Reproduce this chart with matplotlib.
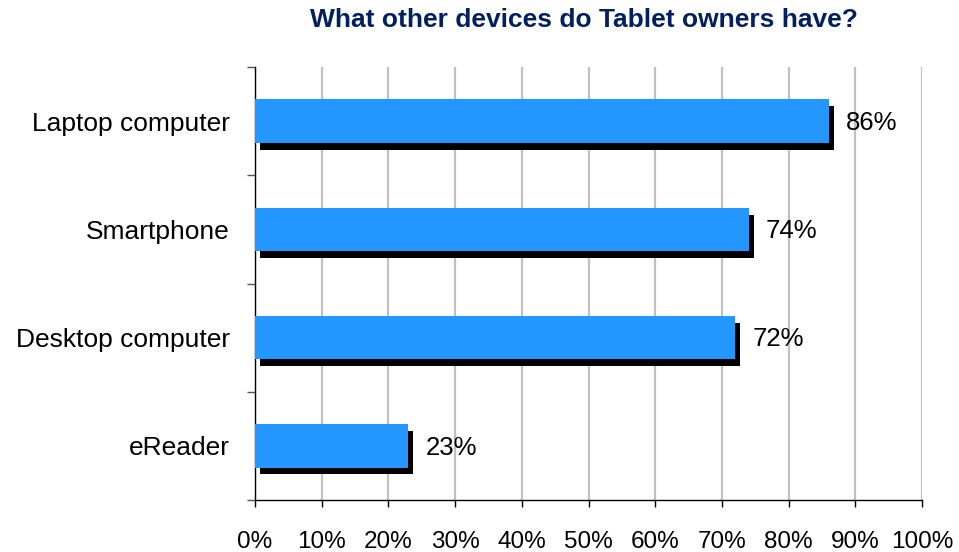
import matplotlib
matplotlib.use("Agg")
import matplotlib.pyplot as plt
import matplotlib.patheffects as pe
from matplotlib.ticker import FixedLocator

plt.rcParams['font.family'] = ['Liberation Sans', 'DejaVu Sans']

title = "What other devices do Tablet owners have?"
categories = ["Laptop computer", "Smartphone", "Desktop computer", "eReader"]
shares = [86, 74, 72, 23]
x_ticks = [0, 10, 20, 30, 40, 50, 60, 70, 80, 90, 100]
x_tick_labels = [f"{v}%" for v in x_ticks]

fig = plt.figure(figsize=(9.59, 5.52), dpi=100)
ax = fig.add_axes([255 / 959, 1 - 500 / 552, (922 - 255) / 959, (500 - 67) / 552])

ypos = list(range(len(categories)))
bars = ax.barh(ypos, shares, height=0.40, color="#2397FF", edgecolor="none", zorder=3)
for b in bars:
    b.set_path_effects([
        pe.SimplePatchShadow(offset=(3.6, -5.0), shadow_rgbFace="black", alpha=1.0),
        pe.Normal(),
    ])

for y, v in zip(ypos, shares):
    ax.annotate(f"{v}%", xy=(v, y), xytext=(12.5, -1.2), textcoords="offset points",
                ha="left", va="center", fontsize=18.5, color="black")

ax.set_xlim(0, 100)
ax.set_ylim(len(categories) - 0.5, -0.5)

ax.set_xticks(x_ticks)
ax.set_xticklabels(x_tick_labels, fontsize=17.5)
ax.set_yticks(ypos)
ax.set_yticklabels(categories, fontsize=19)
ax.yaxis.set_minor_locator(FixedLocator([i - 0.5 for i in range(len(categories) + 1)]))

ax.tick_params(axis="y", which="major", length=0, pad=18)
ax.tick_params(axis="y", which="minor", length=6, width=1, color="#555555")
ax.tick_params(axis="x", which="major", length=5, width=1, color="black", pad=17.5)

ax.grid(axis="x", color="#c0c0c0", linewidth=1.6, zorder=0)
ax.set_axisbelow(True)

for s in ("top", "right"):
    ax.spines[s].set_visible(False)
for s in ("left", "bottom"):
    ax.spines[s].set_color("black")
    ax.spines[s].set_linewidth(1.0)

fig.text(584 / 959, 1 - 20 / 552, title, ha="center", va="center",
         fontsize=19, fontweight="bold", color="#002060")

fig.savefig("out.png", dpi=100)
